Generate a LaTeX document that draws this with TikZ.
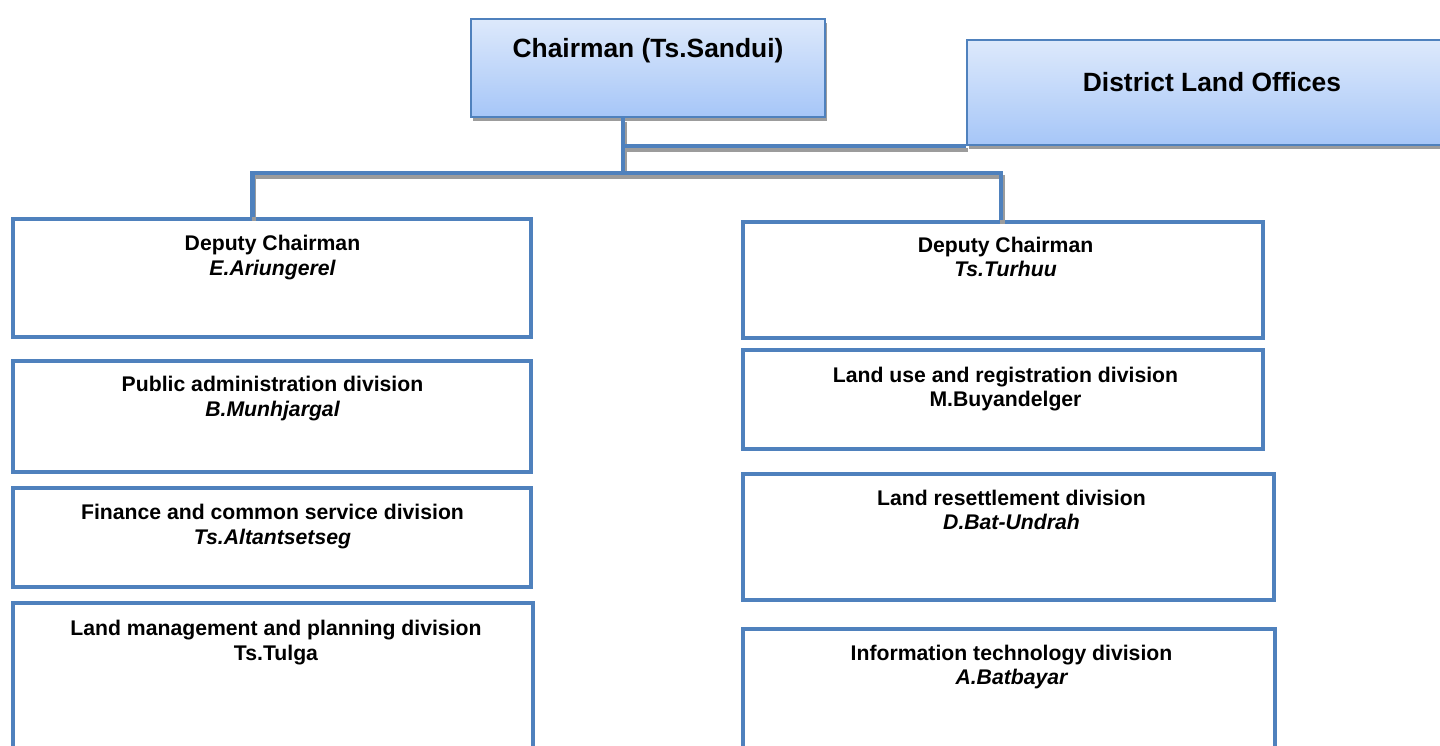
\documentclass[tikz,border=0pt]{standalone}
\usepackage{fontspec}
\setmainfont{Liberation Sans}
\usetikzlibrary{shadows}
\definecolor{orgblue}{HTML}{4F81BD}
\definecolor{shadegray}{HTML}{9C9C9C}
\definecolor{headtop}{HTML}{DDE9FB}
\definecolor{headbot}{HTML}{A6C6F8}
\tikzset{
  head/.style={draw=orgblue, line width=2pt, top color=headtop, bottom color=headbot,
    inner sep=0pt, drop shadow={shadow xshift=2pt, shadow yshift=-4pt, opacity=1, fill=shadegray}},
  unitbox/.style={draw=orgblue, line width=4.5pt, fill=white, inner sep=0pt},
  conn/.style={draw=orgblue, line width=4.5pt},
  connshade/.style={draw=shadegray, line width=4.5pt},
  headtxt/.style={font=\fontsize{26.4}{30}\selectfont\bfseries, anchor=base, inner sep=0pt},
  lbl/.style={font=\fontsize{21.2}{25}\selectfont\bfseries, anchor=base, inner sep=0pt},
  nm/.style={font=\fontsize{21.2}{25}\selectfont\bfseries\itshape, anchor=base, inner sep=0pt},
}
\begin{document}
\begin{tikzpicture}[x=1pt,y=-1pt]
\clip (0,0) rectangle (1440,745);
\fill[white] (0,0) rectangle (1440,745);

% top level
\node[head, minimum width=354pt, minimum height=98pt] (ch) at (648,68) {};
\node[head, minimum width=493pt, minimum height=105pt] (dl) at (1213.5,92.5) {};
\node[headtxt] (cht) at (648,57.5) {Chairman (Ts.Sandui)};
\node[headtxt] (dlt) at (1212,91.5) {District Land Offices};

% left column
\node[unitbox, minimum width=518pt, minimum height=118pt] (l1) at (272,278) {};
\node[unitbox, minimum width=518pt, minimum height=111pt] (l2) at (272,416.5) {};
\node[unitbox, minimum width=518pt, minimum height=99pt]  (l3) at (272,537.5) {};
\node[unitbox, minimum width=520pt, minimum height=167pt] (l4) at (273,686.5) {};

% right column
\node[unitbox, minimum width=520pt, minimum height=116pt] (r1) at (1003,280) {};
\node[unitbox, minimum width=520pt, minimum height=99pt]  (r2) at (1003,399.5) {};
\node[unitbox, minimum width=531pt, minimum height=126pt] (r3) at (1008.5,537) {};
\node[unitbox, minimum width=532pt, minimum height=141pt] (r4) at (1009,699.5) {};

% connector joints
\coordinate (hub) at (623,173);
\coordinate (bl) at (252.5,173);
\coordinate (br) at (1001,173);

\begin{scope}[transform canvas={shift={(1.5pt,-4pt)}}]
  \draw[connshade] (ch.south -| hub) -- (hub);
  \draw[connshade] (hub |- dl.south west) -- (dl.south west);
  \draw[connshade] (l1.north -| bl) -- (bl) -- (br) -- (r1.north -| br);
\end{scope}
\draw[conn] (ch.south -| hub) -- (hub);
\draw[conn] (hub |- dl.south west) -- (dl.south west);
\draw[conn] (l1.north -| bl) -- (bl) -- (br) -- (r1.north -| br);

% labels, left column
\node[lbl] (l1a) at (272.5,250) {Deputy Chairman};
\node[nm]  (l1b) at (272.5,275) {E.Ariungerel};
\node[lbl] (l2a) at (272.5,391) {Public administration division};
\node[nm]  (l2b) at (272.5,416) {B.Munhjargal};
\node[lbl] (l3a) at (272.5,519) {Finance and common service division};
\node[nm]  (l3b) at (272.5,544) {Ts.Altantsetseg};
\node[lbl] (l4a) at (276,635) {Land management and planning division};
\node[lbl] (l4b) at (276,660) {Ts.Tulga};

% labels, right column
\node[lbl] (r1a) at (1005.5,252) {Deputy Chairman};
\node[nm]  (r1b) at (1005.5,276) {Ts.Turhuu};
\node[lbl] (r2a) at (1005.5,382) {Land use and registration division};
\node[lbl] (r2b) at (1005.5,406) {M.Buyandelger};
\node[lbl] (r3a) at (1011.5,505) {Land resettlement division};
\node[nm]  (r3b) at (1011.5,529) {D.Bat-Undrah};
\node[lbl] (r4a) at (1011.5,660) {Information technology division};
\node[nm]  (r4b) at (1011.5,684) {A.Batbayar};
\end{tikzpicture}
\end{document}
